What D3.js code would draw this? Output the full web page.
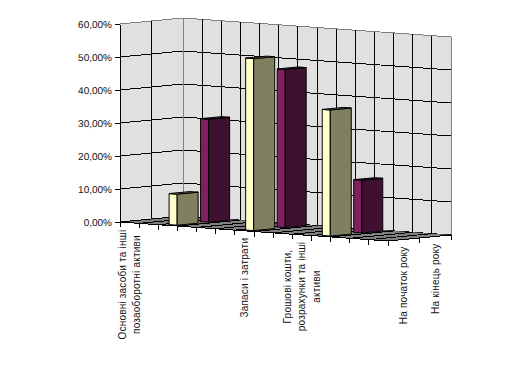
<!DOCTYPE html>
<html>
<head>
<meta charset="utf-8">
<script src="https://cdn.jsdelivr.net/npm/d3@7"></script>
<style>
body { margin: 0; background: #fff; }
text { font-family: "Liberation Sans", Arial, sans-serif; font-size: 10px; fill: #111; }
</style>
</head>
<body>
<div id="chart-area"></div>
<script>
// the sheet has 14 category rows, most of them blank
var categories = [
	["Основні засоби та інші", "позаоборотні активи"], [], [], [], [], [],
	["Запаси і затрати"], [], [],
	["Грошові кошти,", "розрахунки та інші", "активи"], [], [], [], []
];
var seriesNames = ["На початок року", "На кінець року"];
var startOfYear = [null, null, 9.4, null, null, null, 52.1, null, null, null, 38.2, null, null, null];
var endOfYear = [null, null, 31.2, null, null, null, 47.9, null, null, null, 16, null, null, null];
var valueTicks = [0, 10, 20, 30, 40, 50, 60];

var seriesValues = [startOfYear, endOfYear];
var faceColors = [
	{front: "#ffffcc", side: "#808060"},
	{front: "#802060", side: "#401030"}
];

var svg = d3.select("#chart-area")
	.append("svg")
	.attr("width", 526)
	.attr("height", 376);

// oblique projection: category runs along the back wall, series runs into the page
var originX = 120, originY = 222;
var catX = d3.scaleLinear().domain([0, categories.length]).range([0, 268]);
var catY = d3.scaleLinear().domain([0, categories.length]).range([0, 19]);
var serX = d3.scaleLinear().domain([0, seriesNames.length]).range([0, 63]);
var serY = d3.scaleLinear().domain([0, seriesNames.length]).range([0, -6]);
var valY = d3.scaleLinear().domain([0, 60]).range([originY, originY - 198]);

function pt(c, s, v) {
	return [originX + catX(c) + serX(s), valY(v) + catY(c) + serY(s)];
}

function poly(parent, points, fill) {
	return parent.append("polygon")
		.attr("points", points.map((p) => p.join(",")).join(" "))
		.attr("fill", fill);
}

function line(parent, a, b, color) {
	parent.append("line")
		.attr("x1", a[0]).attr("y1", a[1])
		.attr("x2", b[0]).attr("y2", b[1])
		.attr("stroke", color)
		.attr("shape-rendering", "crispEdges");
}

var nC = categories.length, nS = seriesNames.length;
var walls = svg.append("g");

poly(walls, [pt(0, 0, 0), pt(0, nS, 0), pt(0, nS, 60), pt(0, 0, 60)], "#e0e0e0");
poly(walls, [pt(0, nS, 0), pt(nC, nS, 0), pt(nC, nS, 60), pt(0, nS, 60)], "#e0e0e0");

// horizontal gridlines round both walls
valueTicks.forEach((v) => {
	var col = v == 60 ? "#808080" : "#000";
	line(walls, pt(0, 0, v), pt(0, nS, v), col);
	line(walls, pt(0, nS, v), pt(nC, nS, v), col);
});

// vertical gridlines
d3.range(1, nS).forEach((s) => line(walls, pt(0, s, 0), pt(0, s, 60), "#000"));
d3.range(1, nC).forEach((c) => line(walls, pt(c, nS, 0), pt(c, nS, 60), "#000"));
line(walls, pt(0, nS, 0), pt(0, nS, 60), "#808080");
line(walls, pt(nC, nS, 0), pt(nC, nS, 60), "#808080");

// floor: only the lines running into the page show as black stripes
var floor = svg.append("g");
poly(floor, [pt(0, 0, 0), pt(0, nS, 0), pt(nC, nS, 0), pt(nC, 0, 0)], "#808080");
d3.range(0, nC + 1).forEach((c) => line(floor, pt(c, 0, 0), pt(c, nS, 0), "#000"));

// bars, back row first
var bars = svg.append("g").attr("stroke", "#000").attr("stroke-width", 1);
d3.range(nS - 1, -1, -1).forEach((s) => {
	seriesValues[s].forEach((v, c) => {
		if (v == null) return;
		var c0 = c + 0.29, c1 = c + 0.71, s0 = s + 0.167, s1 = s + 0.833;
		var colors = faceColors[s];
		poly(bars, [pt(c0, s0, 0), pt(c1, s0, 0), pt(c1, s0, v), pt(c0, s0, v)], colors.front);
		poly(bars, [pt(c1, s0, 0), pt(c1, s1, 0), pt(c1, s1, v), pt(c1, s0, v)], colors.side);
		poly(bars, [pt(c0, s0, v), pt(c1, s0, v), pt(c1, s1, v), pt(c0, s1, v)], colors.side);
	});
});

// value axis
var yAxisCall = d3.axisLeft(valY)
	.tickValues(valueTicks)
	.tickSize(5)
	.tickSizeOuter(0)
	.tickPadding(3)
	.tickFormat((d) => d.toFixed(2).replace(".", ",") + "%");

var yAxisGroup = svg.append("g")
	.attr("transform", "translate(" + originX + ", 0)")
	.attr("shape-rendering", "crispEdges")
	.call(yAxisCall);
yAxisGroup.selectAll("text").attr("font-family", null).attr("font-size", null).attr("text-rendering", "geometricPrecision");
yAxisGroup.select(".domain").attr("stroke", "#000");

// front edges of the floor with their tick marks
var axes = svg.append("g");
line(axes, pt(0, 0, 0), pt(nC, 0, 0), "#000");
line(axes, pt(nC, 0, 0), pt(nC, nS, 0), "#000");
d3.range(0, nC + 1).forEach((c) => {
	var p = pt(c, 0, 0);
	line(axes, p, [p[0], p[1] + 5], "#000");
});
d3.range(1, nS + 1).forEach((s) => {
	var p = pt(nC, s, 0);
	line(axes, p, [p[0], p[1] + 5], "#000");
});

// rotated labels: a block of centred lines hung below the axis
var lineStep = 14.5;
function rotatedLabel(lines, p) {
	var group = svg.append("g").attr("class", "x axis-label");
	var texts = lines.map((t, i) => {
		return group.append("text")
			.attr("text-anchor", "middle")
			.style("letter-spacing", "0.2px")
			.text(t);
	});
	var longest = d3.max(texts, (t) => t.node().getComputedTextLength());
	var cy = p[1] + 7 + longest / 2;
	texts.forEach((t, i) => {
		var tx = p[0] + (i - (lines.length - 1) / 2) * lineStep + 3.5;
		t.attr("transform", "translate(" + tx + ", " + cy + ") rotate(-90)");
	});
}

categories.forEach((lines, c) => {
	if (lines.length) rotatedLabel(lines, pt(c + 0.5, 0, 0));
});
seriesNames.forEach((name, s) => {
	rotatedLabel([name], pt(nC, s + 0.5, 0));
});
</script>
</body>
</html>
